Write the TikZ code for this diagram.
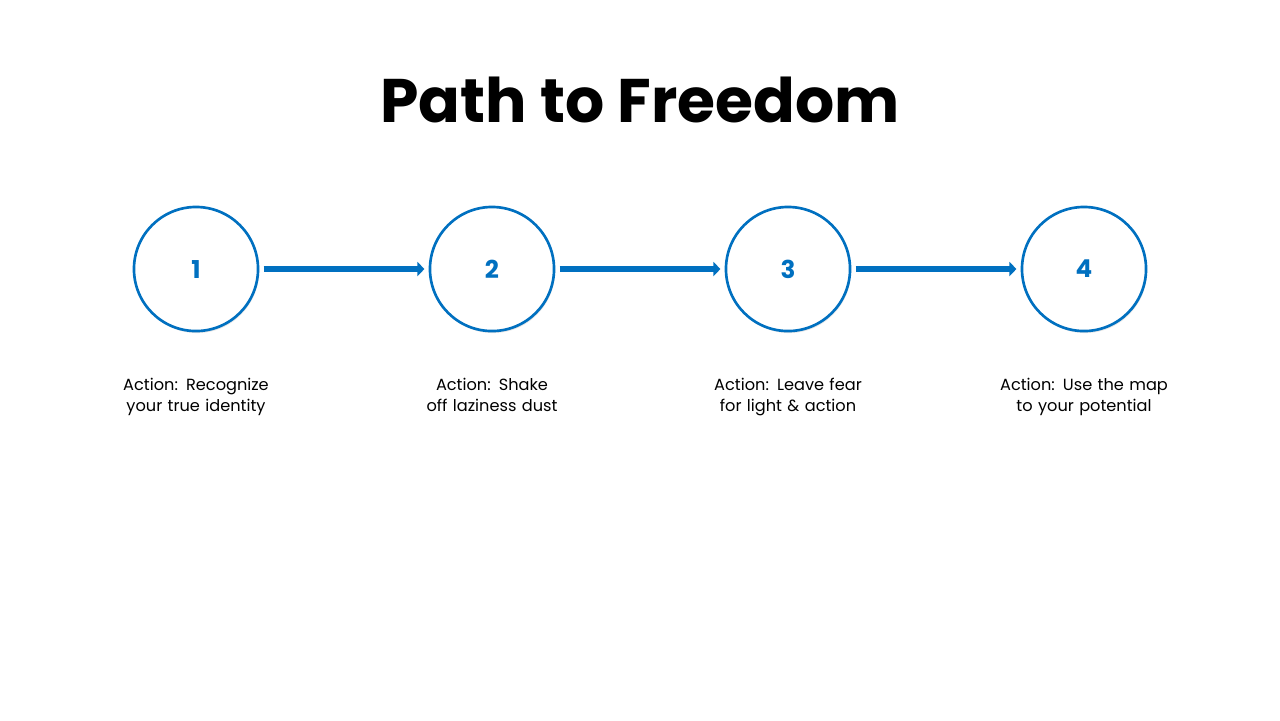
\documentclass[tikz,border=0pt]{standalone}
\usepackage{fontspec}
\setmainfont{Poppins}
\usetikzlibrary{arrows.meta,shadows,positioning}
\definecolor{stepblue}{HTML}{0070C0}
\tikzset{
  stepcircle/.style={circle, draw=stepblue, line width=0.75pt, fill=white, minimum size=1.24cm,
    inner sep=0pt, text=stepblue, font=\fontsize{7}{8}\selectfont\bfseries,
    drop shadow={shadow xshift=0.01cm, shadow yshift=-0.02cm, opacity=0.2}},
  steplabel/.style={align=center, text width=2.3cm, font=\fontsize{4.6}{6}\selectfont},
  steparrow/.style={draw=stepblue, line width=1.7pt, -{Triangle[length=2pt,width=4pt]}, shorten <=1.2pt, shorten >=1.2pt},
}
\begin{document}
\begin{tikzpicture}[x=0.01cm, y=-0.01cm]
\useasboundingbox (0,0) rectangle (1280,720);
% Title
\node[font=\fontsize{17.5}{20}\selectfont\bfseries] (title) at (640,100) {Path to Freedom};
% Steps
\node[stepcircle] (s1) at (196,269) {1};
\node[stepcircle] (s2) at (492,269) {2};
\node[stepcircle] (s3) at (788,269) {3};
\node[stepcircle] (s4) at (1084,269) {4};
% Arrows
\draw[steparrow] (s1) -- (s2);
\draw[steparrow] (s2) -- (s3);
\draw[steparrow] (s3) -- (s4);
% Labels
\node[steplabel, anchor=north] (l1) at (196,366) {Action: Recognize your true identity};
\node[steplabel, anchor=north] (l2) at (492,366) {Action: Shake off laziness dust};
\node[steplabel, anchor=north] (l3) at (788,366) {Action: Leave fear for light \& action};
\node[steplabel, anchor=north] (l4) at (1084,366) {Action: Use the map to your potential};
\end{tikzpicture}
\end{document}
